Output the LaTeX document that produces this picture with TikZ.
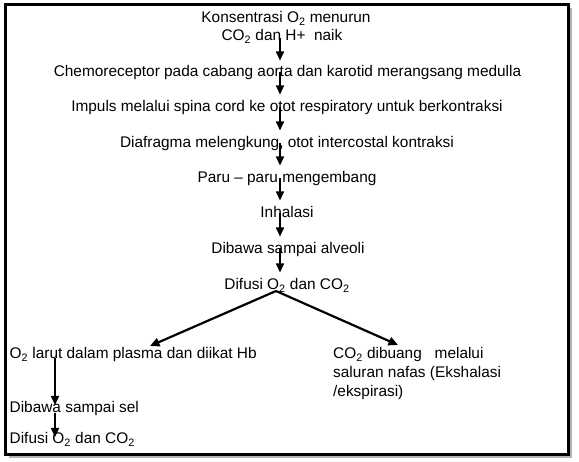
\documentclass[tikz,border=0pt]{standalone}
\usepackage{fontspec}
\setmainfont{Liberation Sans}
\usetikzlibrary{arrows.meta}
\begin{document}
\begin{tikzpicture}[x=1pt,y=-1pt,
  lbl/.style={inner sep=0pt, anchor=base, font=\fontsize{15.4}{19}\selectfont},
  lblw/.style={lbl, anchor=base west},
  arr/.style={line width=1.6pt, -{Triangle[width=8pt,length=9pt]}},
  brn/.style={line width=2.2pt, -{Triangle[width=8.5pt,length=9.5pt]}}]
\fill[white] (0,0) rectangle (579,462);
\fill[black!30] (9,8) rectangle (572,458);
\fill[white] (5.5,4.5) rectangle (568,454.5);
\draw[line width=3pt] (5.5,4.5) rectangle (568,454.5);
\node[lbl] (t1) at (286,22.5) {Konsentrasi O\textsubscript{2} menurun};
\node[lbl] (t2) at (282,40.5) {CO\textsubscript{2} dan H+\ \ naik};
\node[lbl] (t3) at (287.5,76.5) {Chemoreceptor pada cabang aorta dan karotid merangsang medulla};
\node[lbl] (t4) at (287,111.5) {Impuls melalui spina cord ke otot respiratory untuk berkontraksi};
\node[lbl] (t5) at (287,147.5) {Diafragma melengkung, otot intercostal kontraksi};
\node[lbl] (t6) at (287,182.5) {Paru – paru mengembang};
\node[lbl] (t7) at (287,217.5) {Inhalasi};
\node[lbl] (t8) at (288,253.5) {Dibawa sampai alveoli};
\node[lbl] (t9) at (287,289.5) {Difusi O\textsubscript{2} dan CO\textsubscript{2}};
\node[lblw] (l1) at (9.5,358.5) {O\textsubscript{2} larut dalam plasma dan diikat Hb};
\node[lblw] (l2) at (9.5,413) {Dibawa sampai sel};
\node[lblw] (l3) at (9.5,444) {Difusi O\textsubscript{2} dan CO\textsubscript{2}};
\node[lblw] (r1) at (333,358.5) {CO\textsubscript{2} dibuang\ \ \ melalui};
\node[lblw] (r2) at (333,377.5) {saluran nafas (Ekshalasi};
\node[lblw] (r3) at (333,396.5) {/ekspirasi)};
\coordinate (ax) at (280,0);
\draw[arr] ([yshift=2.5pt]t2.base -| ax) -- ([yshift=16pt]t3.base -| ax);
\draw[arr] ([yshift=4pt]t3.base -| ax) -- ([yshift=17pt]t4.base -| ax);
\draw[arr] ([yshift=4pt]t4.base -| ax) -- ([yshift=17pt]t5.base -| ax);
\draw[arr] ([yshift=4pt]t5.base -| ax) -- ([yshift=17pt]t6.base -| ax);
\draw[arr] ([yshift=4pt]t6.base -| ax) -- ([yshift=17pt]t7.base -| ax);
\draw[arr] ([yshift=4pt]t7.base -| ax) -- ([yshift=17pt]t8.base -| ax);
\draw[arr] ([yshift=4pt]t8.base -| ax) -- ([yshift=17pt]t9.base -| ax);
\coordinate (apex) at ([xshift=-11pt,yshift=-1.5pt]t9.base);
\draw[brn] (apex) -- ([xshift=140.5pt,yshift=12.5pt]l1.base west);
\draw[brn] (apex) -- ([xshift=65pt,yshift=13.5pt]r1.base west);
\draw[arr] ([xshift=45.5pt,yshift=0.5pt]l1.base west) -- ([xshift=45.5pt,yshift=8pt]l2.base west);
\draw[arr] ([xshift=45.5pt]l2.base west) -- ([xshift=45.5pt,yshift=7pt]l3.base west);
\end{tikzpicture}
\end{document}
